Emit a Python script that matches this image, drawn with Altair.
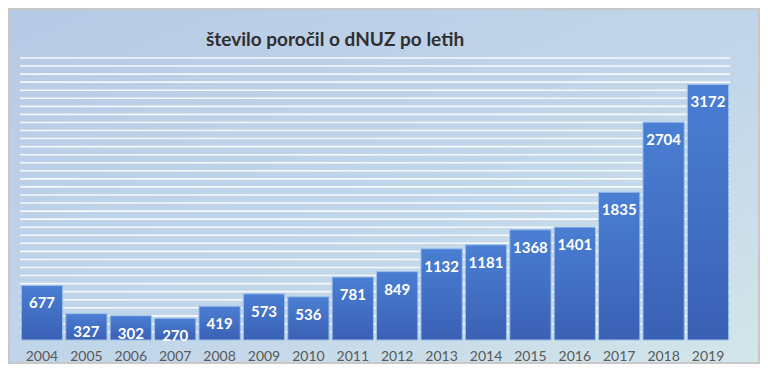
import altair as alt
import pandas as pd

years = ["2004", "2005", "2006", "2007", "2008", "2009", "2010", "2011",
         "2012", "2013", "2014", "2015", "2016", "2017", "2018", "2019"]
counts = [677, 327, 302, 270, 419, 573, 536, 781, 849, 1132, 1181, 1368,
          1401, 1835, 2704, 3172]
title_text = "število poročil o dNUZ po letih"
grid_values = list(range(100, 3600, 100))

df = pd.DataFrame({"leto": years, "n": counts})
grid_df = pd.DataFrame({"g": grid_values})
bg_df = pd.DataFrame({"t": [title_text]})

W, H = 710, 282

bg = alt.Chart(bg_df).mark_rect(
    color=alt.LinearGradient(
        gradient="linear", x1=0, y1=0, x2=1, y2=1,
        stops=[alt.GradientStop(color="#b6cae6", offset=0),
               alt.GradientStop(color="#c3d7ea", offset=0.6),
               alt.GradientStop(color="#d3e6e9", offset=1)]),
    stroke="#c8c8c8", strokeWidth=2,
).encode(
    x=alt.value(-11), x2=alt.value(W + 29),
    y=alt.value(-49), y2=alt.value(H + 23),
)

title = alt.Chart(bg_df).mark_text(
    font="Lato", fontSize=19, fontWeight="bold", color="#2f2f2f",
    baseline="middle", align="center",
).encode(x=alt.value(315), y=alt.value(-18), text="t:N")

yscale = alt.Scale(domain=[0, 3500], nice=False)

grid = alt.Chart(grid_df).mark_rule(
    color="#ffffff", strokeWidth=1.6, opacity=0.85,
).encode(
    y=alt.Y("g:Q", scale=yscale, axis=None),
    x=alt.value(0), x2=alt.value(W),
)

xenc = alt.X("leto:N", sort=years, title=None,
             scale=alt.Scale(paddingInner=0.07, paddingOuter=0.03),
             axis=alt.Axis(labelAngle=0, domain=False, ticks=False,
                           labelFont="Lato", labelFontSize=14,
                           labelColor="#595959", labelPadding=9, zindex=1))
yenc = alt.Y("n:Q", title=None, scale=yscale, axis=None)

bars = alt.Chart(df).mark_bar(
    color=alt.LinearGradient(
        gradient="linear", x1=0, y1=0, x2=0, y2=1,
        stops=[alt.GradientStop(color="#4a7fd4", offset=0),
               alt.GradientStop(color="#3a60b4", offset=1)]),
    stroke="#9cc0ea", strokeWidth=1,
).encode(x=xenc, y=yenc)

labels = alt.Chart(df).mark_text(
    baseline="middle", dy=18, color="white", font="Lato",
    fontWeight="bold", fontSize=15,
).encode(x=alt.X("leto:N", sort=years), y="n:Q", text="n:Q")

chart = alt.layer(bg, title, grid, bars, labels).properties(
    width=W, height=H,
    autosize=alt.AutoSizeParams(type="none"),
    padding={"left": 12, "top": 50, "right": 30, "bottom": 24},
).configure_view(stroke=None).configure(background="#f2f2f2")

chart.save("out.html", embed_options={"renderer": "svg", "actions": False})
